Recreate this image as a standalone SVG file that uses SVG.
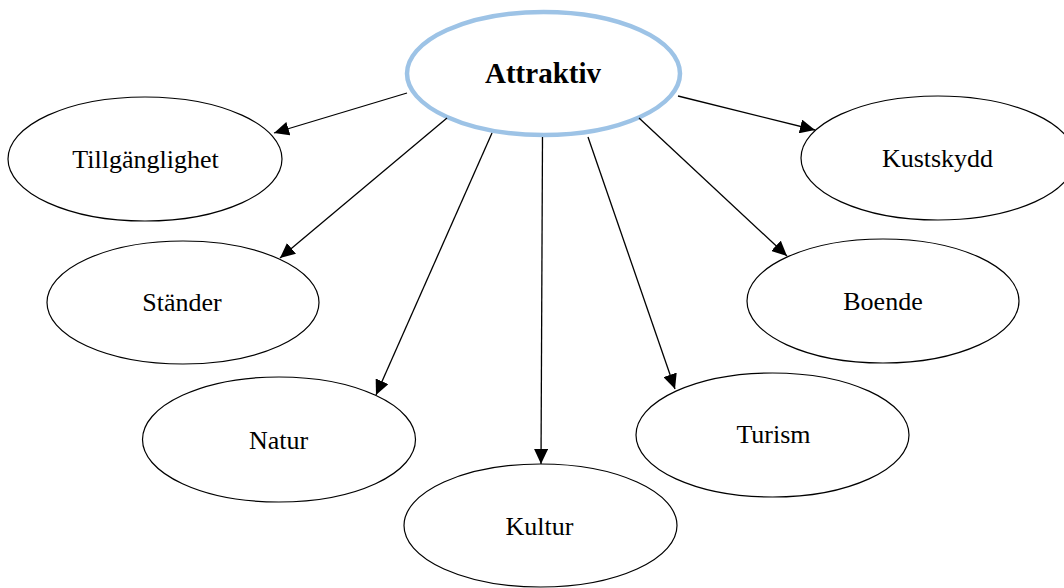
<svg xmlns="http://www.w3.org/2000/svg" width="1064" height="588" viewBox="0 0 1064 588">
<style>
.node{fill:#fff;stroke:#000;stroke-width:1.2}
.main{fill:#fff;stroke:#9dc3e6;stroke-width:4.5}
.lbl{font-family:"Liberation Serif","Times New Roman",serif;font-size:26px;fill:#000;text-anchor:middle}
.mlbl{font-family:"Liberation Serif","Times New Roman",serif;font-size:29px;font-weight:bold;fill:#000;text-anchor:middle}
.edge{stroke:#000;stroke-width:1.3;fill:none;marker-end:url(#arr)}
</style>
<defs>
<marker id="arr" markerUnits="userSpaceOnUse" markerWidth="16" markerHeight="14" refX="15" refY="7" orient="auto">
<path d="M0,0 L15,7 L0,14 z" fill="#000"/>
</marker>
</defs>
<rect width="1064" height="588" fill="#fff"/>
<g id="n-tillganglighet"><ellipse class="node" cx="145" cy="159" rx="137" ry="62"/><text class="lbl" x="145.5" y="168">Tillgänglighet</text></g>
<g id="n-kustskydd"><ellipse class="node" cx="938" cy="158" rx="137" ry="62"/><text class="lbl" x="937.5" y="167">Kustskydd</text></g>
<g id="n-stander"><ellipse class="node" cx="183" cy="302.5" rx="136" ry="61.5"/><text class="lbl" x="182" y="311">Ständer</text></g>
<g id="n-boende"><ellipse class="node" cx="883" cy="301" rx="136" ry="62"/><text class="lbl" x="883" y="310">Boende</text></g>
<g id="n-natur"><ellipse class="node" cx="279" cy="439.5" rx="136.5" ry="62.5"/><text class="lbl" x="278.5" y="449">Natur</text></g>
<g id="n-turism"><ellipse class="node" cx="772.5" cy="435" rx="136.5" ry="62"/><text class="lbl" x="773.5" y="443">Turism</text></g>
<g id="n-kultur"><ellipse class="node" cx="540.5" cy="525.5" rx="136.5" ry="61.5"/><text class="lbl" x="539.5" y="535">Kultur</text></g>
<g id="n-attraktiv"><ellipse class="main" cx="543.5" cy="73.5" rx="136.5" ry="61.5"/><text class="mlbl" x="543" y="83">Attraktiv</text></g>
<g id="edges">
<line class="edge" x1="407" y1="93" x2="274" y2="133"/>
<line class="edge" x1="447" y1="118" x2="280" y2="258"/>
<line class="edge" x1="492" y1="133" x2="376" y2="395"/>
<line class="edge" x1="542.5" y1="137" x2="541" y2="464"/>
<line class="edge" x1="588" y1="137" x2="675" y2="389"/>
<line class="edge" x1="639" y1="118" x2="787" y2="256"/>
<line class="edge" x1="678" y1="96" x2="815" y2="130"/>
</g>
</svg>
